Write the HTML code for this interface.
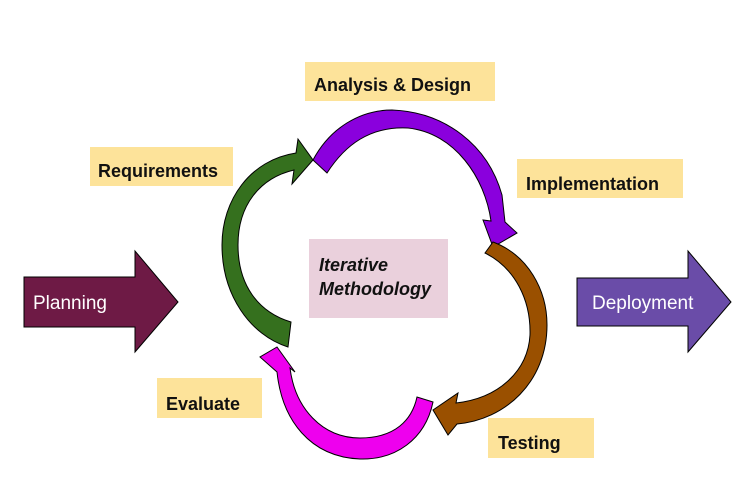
<!DOCTYPE html>
<html><head><style>
body{margin:0;background:#fff;}
.l{position:absolute;background:#fde39a;font-family:"Liberation Sans",sans-serif;font-size:18px;font-weight:bold;color:#111;}
</style></head><body>
<div style="position:relative;width:748px;height:495px;overflow:hidden">
<div class="l" style="left:305px;top:62px;width:190px;height:39px;line-height:46px;padding-left:9px;box-sizing:border-box">Analysis &amp; Design</div>
<div class="l" style="left:90px;top:147px;width:143px;height:39px;line-height:48px;padding-left:8px;box-sizing:border-box">Requirements</div>
<div class="l" style="left:517px;top:159px;width:166px;height:39px;line-height:50px;padding-left:9px;box-sizing:border-box">Implementation</div>
<div class="l" style="left:157px;top:378px;width:105px;height:40px;line-height:52px;padding-left:9px;box-sizing:border-box">Evaluate</div>
<div class="l" style="left:488px;top:418px;width:106px;height:40px;line-height:50px;padding-left:10px;box-sizing:border-box">Testing</div>
<div style="position:absolute;left:309px;top:239px;width:139px;height:79px;background:#ead0dc;font-family:'Liberation Sans',sans-serif;font-style:italic;font-weight:bold;font-size:18px;line-height:24px;padding:14px 0 0 10px;box-sizing:border-box;color:#111">Iterative<br>Methodology</div>
<svg width="748" height="495" style="position:absolute;left:0;top:0" stroke="#000" stroke-width="1">
<polygon points="24,277 135,277 135,251 178,302 135,352 135,327 24,327" fill="#6e1a45"/>
<polygon points="577,278 688,278 688,251 731,302 688,352 688,326 577,326" fill="#6a4ca8"/>
<text x="33" y="309" font-family="Liberation Sans,sans-serif" font-size="19" fill="#fff" stroke="none">Planning</text>
<text x="592" y="309" font-family="Liberation Sans,sans-serif" font-size="19" fill="#fff" stroke="none">Deployment</text>
<path d="M291,322 C258,312 238,285 238,245 C238,205 260,178 294,170 L292,184 L313,160 L298,139 L296,153 C250,160 222,200 222,245 C222,295 250,335 288,347 Z" fill="#35701e"/>
<path d="M313,160 C330,128 360,110 392,110 C445,112 488,145 502,195 L505,222 L517,233 L493,247 L483,220 L491,221 C485,178 455,133 408,128 C370,126 345,145 327,173 Z" fill="#8a00dd"/>
<path d="M485,253 L493,242 C528,255 547,290 547,325 C547,382 505,420 457,424 L448,435 L433,410 L458,393 L456,403 C500,398 528,370 530,335 C531,300 515,268 485,253 Z" fill="#9a5000"/>
<path d="M433,402 C425,440 395,460 360,459 C310,457 282,420 277,372 L260,357 L277,347 L295,372 L290,368 C295,408 322,438 360,438 C395,438 412,420 417,397 Z" fill="#ee00ee"/>
</svg>
</div>
</body></html>
